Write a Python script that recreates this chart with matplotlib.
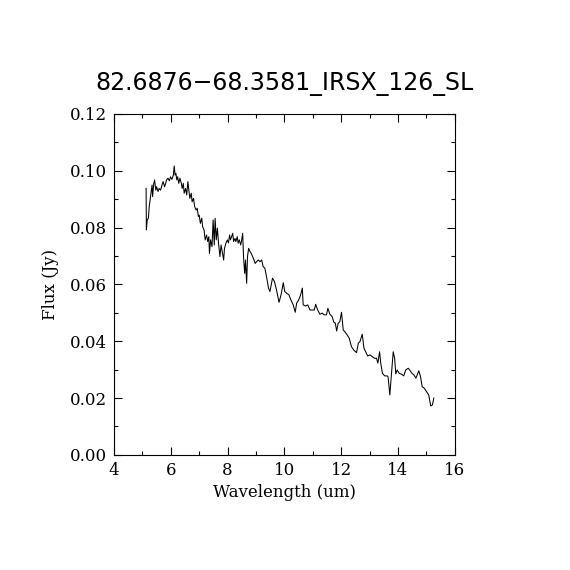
import numpy as np
import matplotlib
matplotlib.use("Agg")
import matplotlib.pyplot as plt
from matplotlib.ticker import MultipleLocator


# ── Spectrum ─────────────────────────────────────────────────────────────────
wavelength = [
    5.13, 5.14, 5.17, 5.21, 5.24, 5.30, 5.34, 5.36, 5.40, 5.43,
    5.47, 5.50, 5.55, 5.59, 5.64, 5.69, 5.73, 5.78, 5.82, 5.85,
    5.90, 5.95, 5.99, 6.04, 6.09, 6.12, 6.15, 6.18, 6.21, 6.24,
    6.28, 6.32, 6.37, 6.40, 6.44, 6.47, 6.52, 6.56, 6.60, 6.64,
    6.67, 6.72, 6.75, 6.80, 6.84, 6.89, 6.93, 6.97, 7.00, 7.04,
    7.09, 7.12, 7.17, 7.21, 7.26, 7.30, 7.34, 7.36, 7.40, 7.45,
    7.49, 7.53, 7.56, 7.60, 7.64, 7.68, 7.73, 7.77, 7.82, 7.86,
    7.89, 7.94, 7.99, 8.03, 8.07, 8.10, 8.14, 8.18, 8.21, 8.26,
    8.29, 8.34, 8.37, 8.41, 8.46, 8.49, 8.53, 8.56, 8.60, 8.63,
    8.67, 8.70, 8.74, 8.79, 8.83, 8.88, 8.93, 8.97, 9.02, 9.08,
    9.14, 9.20, 9.25, 9.31, 9.37, 9.44, 9.49, 9.58, 9.65, 9.72,
    9.81, 9.88, 9.96, 10.01, 10.08, 10.16, 10.23, 10.31, 10.38, 10.43,
    10.50, 10.57, 10.63, 10.66, 10.75, 10.82, 10.90, 10.98, 11.05, 11.10,
    11.17, 11.25, 11.33, 11.40, 11.48, 11.53, 11.60, 11.68, 11.74, 11.79,
    11.84, 11.89, 11.95, 12.01, 12.07, 12.14, 12.21, 12.28, 12.36, 12.44,
    12.54, 12.60, 12.66, 12.74, 12.80, 12.86, 12.93, 13.01, 13.09, 13.17,
    13.24, 13.29, 13.35, 13.39, 13.45, 13.53, 13.62, 13.65, 13.71, 13.77,
    13.83, 13.88, 13.92, 13.97, 14.04, 14.12, 14.20, 14.27, 14.36, 14.42,
    14.49, 14.56, 14.63, 14.69, 14.73, 14.79, 14.85, 14.92, 15.00, 15.08,
    15.15, 15.21, 15.26,
]
flux = [
    0.0938, 0.0792, 0.0827, 0.0833, 0.0874, 0.0921, 0.0950, 0.0909, 0.0956, 0.0968,
    0.0932, 0.0944, 0.0927, 0.0938, 0.0932, 0.0950, 0.0962, 0.0944, 0.0956, 0.0968,
    0.0974, 0.0965, 0.0979, 0.0970, 0.0985, 0.1017, 0.0985, 0.0991, 0.0968, 0.0979,
    0.0956, 0.0974, 0.0956, 0.0938, 0.0956, 0.0921, 0.0938, 0.0915, 0.0962, 0.0927,
    0.0903, 0.0921, 0.0891, 0.0903, 0.0874, 0.0862, 0.0868, 0.0839, 0.0844, 0.0815,
    0.0833, 0.0803, 0.0792, 0.0757, 0.0774, 0.0751, 0.0768, 0.0709, 0.0757, 0.0733,
    0.0827, 0.0739, 0.0833, 0.0757, 0.0798, 0.0745, 0.0698, 0.0739, 0.0710, 0.0686,
    0.0727, 0.0745, 0.0757, 0.0746, 0.0774, 0.0757, 0.0768, 0.0780, 0.0751, 0.0762,
    0.0751, 0.0768, 0.0745, 0.0757, 0.0739, 0.0753, 0.0780, 0.0698, 0.0639, 0.0686,
    0.0604, 0.0698, 0.0727, 0.0715, 0.0710, 0.0698, 0.0686, 0.0674, 0.0680, 0.0686,
    0.0680, 0.0686, 0.0663, 0.0657, 0.0627, 0.0587, 0.0575, 0.0622, 0.0610, 0.0581,
    0.0537, 0.0563, 0.0606, 0.0575, 0.0569, 0.0563, 0.0545, 0.0528, 0.0502, 0.0534,
    0.0545, 0.0563, 0.0587, 0.0528, 0.0524, 0.0528, 0.0510, 0.0510, 0.0510, 0.0530,
    0.0510, 0.0495, 0.0499, 0.0493, 0.0493, 0.0516, 0.0495, 0.0487, 0.0467, 0.0464,
    0.0436, 0.0463, 0.0469, 0.0502, 0.0440, 0.0432, 0.0422, 0.0411, 0.0381, 0.0369,
    0.0360, 0.0393, 0.0399, 0.0425, 0.0375, 0.0363, 0.0348, 0.0352, 0.0346, 0.0340,
    0.0340, 0.0323, 0.0363, 0.0323, 0.0287, 0.0278, 0.0278, 0.0274, 0.0211, 0.0287,
    0.0363, 0.0340, 0.0285, 0.0299, 0.0287, 0.0284, 0.0278, 0.0299, 0.0305, 0.0297,
    0.0287, 0.0281, 0.0270, 0.0285, 0.0296, 0.0276, 0.0240, 0.0235, 0.0223, 0.0211,
    0.0172, 0.0176, 0.0200,
]

TITLE = "82.6876\u221268.3581_IRSX_126_SL"
X_TICKS = [4, 6, 8, 10, 12, 14, 16]
Y_TICKS = [0.00, 0.02, 0.04, 0.06, 0.08, 0.10, 0.12]

SERIF = ["DejaVu Serif"]
SANS = ["DejaVu Sans"]


fig = plt.figure(figsize=(5.7, 5.7), dpi=100)
ax = fig.add_axes([0.2, 0.202, 0.598, 0.598])

ax.plot(wavelength, flux, color="black", linewidth=0.75)

ax.set_xlim(4, 16)
ax.set_ylim(0, 0.12)
ax.set_xticks(X_TICKS)
ax.set_xticklabels([str(v) for v in X_TICKS], family=SERIF, fontsize=12)
ax.set_yticks(Y_TICKS)
ax.set_yticklabels([f"{v:.2f}" for v in Y_TICKS], family=SERIF, fontsize=12)
ax.xaxis.set_minor_locator(MultipleLocator(1))
ax.yaxis.set_minor_locator(MultipleLocator(0.01))
ax.tick_params(which="both", direction="in", top=True, right=True,
               width=0.8, pad=5)
ax.tick_params(which="major", length=6)
ax.tick_params(which="minor", length=3)
for sp in ax.spines.values():
    sp.set_linewidth(0.8)

ax.set_xlabel("Wavelength (um)", family=SERIF, fontsize=12, labelpad=4)
ax.set_ylabel("Flux (Jy)", family=SERIF, fontsize=12, labelpad=8)
ax.set_title(TITLE, family=SANS, fontsize=17, pad=17)

fig.savefig("out.png", dpi=100, facecolor="white")
